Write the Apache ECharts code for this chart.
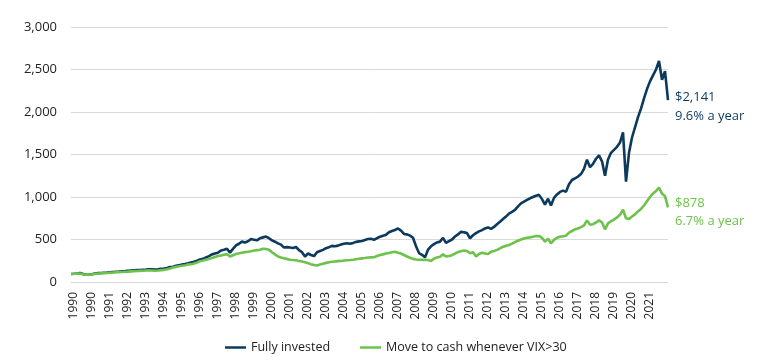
<!DOCTYPE html>
<html>
<head>
<meta charset="utf-8">
<script src="https://cdn.jsdelivr.net/npm/echarts@6/dist/echarts.min.js"></script>
<style>
  html, body { margin: 0; padding: 0; background: #ffffff; }
  #chart { width: 770px; height: 357px; }
</style>
</head>
<body>
<div id="chart"></div>
<script>
// Year tick labels, as printed under the axis
const tickLabels = ['1990','1990','1991','1992','1993','1994','1995','1996','1997','1998','1999',
  '2000','2001','2002','2003','2004','2005','2006','2007','2008','2009','2010',
  '2011','2012','2013','2014','2015','2016','2017','2018','2019','2020','2021'];

// Fully invested (value of $100 invested in 1990)
const fullyInvested = [
  95,97,100,105,95,85,87,92,100,104,106,108,110,113,118,120,122,125,128,132,135,138,140,142,145,147,150,148,146,150,155,158,165,175,
  180,190,198,205,212,220,230,238,250,265,272,290,305,325,335,345,370,380,392,345,390,430,450,475,465,480,505,498,490,515,525,535,515,490,474,
  455,440,405,410,405,400,412,375,350,300,335,318,305,350,365,378,398,410,425,420,428,440,450,455,450,460,472,478,482,495,505,508,496,
  515,533,545,555,585,600,612,630,605,565,560,545,520,420,340,320,290,380,420,445,465,475,520,460,480,500,535,560,590,585,575,515,550,
  575,595,610,630,642,625,648,680,710,740,770,805,825,848,890,925,945,965,985,1000,1015,1025,975,910,980,900,990,1030,1060,1075,1060,1150,1200,1220,
  1240,1270,1330,1440,1350,1390,1450,1490,1420,1250,1440,1520,1555,1590,1640,1760,1180,1520,1700,1820,1940,2040,2160,2270,2360,2430,2500,2600,2380,2480,2141
];

// Move to cash whenever VIX>30
const moveToCash = [
  95,97,99,100,92,85,86,90,96,100,102,104,106,108,112,114,116,118,120,122,125,128,129,131,133,135,137,135,133,136,140,143,150,160,
  170,178,185,192,198,205,210,218,230,245,252,262,272,283,295,305,312,322,326,300,315,330,338,345,352,355,362,370,375,380,392,388,378,350,325,
  300,288,278,272,262,258,255,248,240,232,222,210,200,195,205,215,225,232,238,242,246,248,252,256,258,262,268,274,278,282,288,290,292,
  305,318,325,335,342,350,356,345,335,318,300,285,272,265,262,262,260,258,248,275,288,298,325,300,305,315,335,352,362,370,365,338,350,
  300,330,345,335,330,355,365,378,395,415,425,435,452,470,485,500,512,520,525,532,540,542,520,475,510,455,495,520,532,538,545,580,600,620,
  630,645,665,725,675,680,700,725,700,620,690,715,735,760,790,850,750,740,770,795,830,860,900,950,1000,1040,1070,1110,1040,1010,878
];

const seriesNames = ['Fully invested', 'Move to cash whenever VIX>30'];
const endLabelsFully = ['$2,141', '9.6% a year'];
const endLabelsCash = ['$878', '6.7% a year'];

// one category per data point; a year label every 6 points starting at point 1
const categories = fullyInvested.map((_, i) => String(i));
const labelStart = 1, labelStep = 6;

const NAVY = '#0b3a5e';
const GREEN = '#6cc24a';
const FONT = "'Open Sans', 'DejaVu Sans', sans-serif";
const TEXT = '#222222';

const chart = echarts.init(document.getElementById('chart'), null, { renderer: 'canvas' });

function isLabelIdx(i) {
  return i >= labelStart && (i - labelStart) % labelStep === 0 && (i - labelStart) / labelStep < tickLabels.length;
}

chart.setOption({
  animation: false,
  backgroundColor: '#ffffff',
  textStyle: { fontFamily: FONT },
  grid: { left: 71, right: 102, top: 27, bottom: 75, containLabel: false },
  legend: {
    left: 220,
    top: 336,
    itemWidth: 21,
    itemHeight: 2.5,
    itemGap: 30,
    icon: 'rect',
    textStyle: { fontFamily: FONT, fontSize: 12.5, color: TEXT },
    data: seriesNames
  },
  xAxis: {
    type: 'category',
    data: categories,
    boundaryGap: false,
    axisLine: { show: true, lineStyle: { color: '#d9d9d9', width: 1 } },
    axisTick: { show: false },
    splitLine: { show: false },
    axisLabel: {
      interval: function (i) { return isLabelIdx(i); },
      formatter: function (v, i) { return isLabelIdx(i) ? tickLabels[(i - labelStart) / labelStep] : ''; },
      rotate: 90,
      margin: 10,
      fontSize: 12,
      fontFamily: FONT,
      color: TEXT
    }
  },
  yAxis: {
    type: 'value',
    min: 0,
    max: 3000,
    interval: 500,
    axisLine: { show: false },
    axisTick: { show: false },
    splitLine: { lineStyle: { color: '#d9d9d9', width: 1 } },
    axisLabel: {
      margin: 14,
      fontSize: 13,
      fontFamily: FONT,
      color: TEXT,
      formatter: function (v) { return v.toLocaleString('en-US'); }
    }
  },
  series: [
    {
      name: seriesNames[0],
      type: 'line',
      data: fullyInvested,
      symbol: 'none',
      color: NAVY,
      lineStyle: { color: NAVY, width: 2.6 },
      endLabel: {
        show: true,
        formatter: endLabelsFully.join('\n'),
        color: NAVY,
        fontFamily: FONT,
        fontSize: 13,
        lineHeight: 18.5,
        distance: 7,
        offset: [0, 7]
      }
    },
    {
      name: seriesNames[1],
      type: 'line',
      data: moveToCash,
      symbol: 'none',
      color: GREEN,
      lineStyle: { color: GREEN, width: 2.6 },
      endLabel: {
        show: true,
        formatter: endLabelsCash.join('\n'),
        color: GREEN,
        fontFamily: FONT,
        fontSize: 13,
        lineHeight: 18.5,
        distance: 7,
        offset: [0, 5]
      }
    }
  ]
});
</script>
</body>
</html>
